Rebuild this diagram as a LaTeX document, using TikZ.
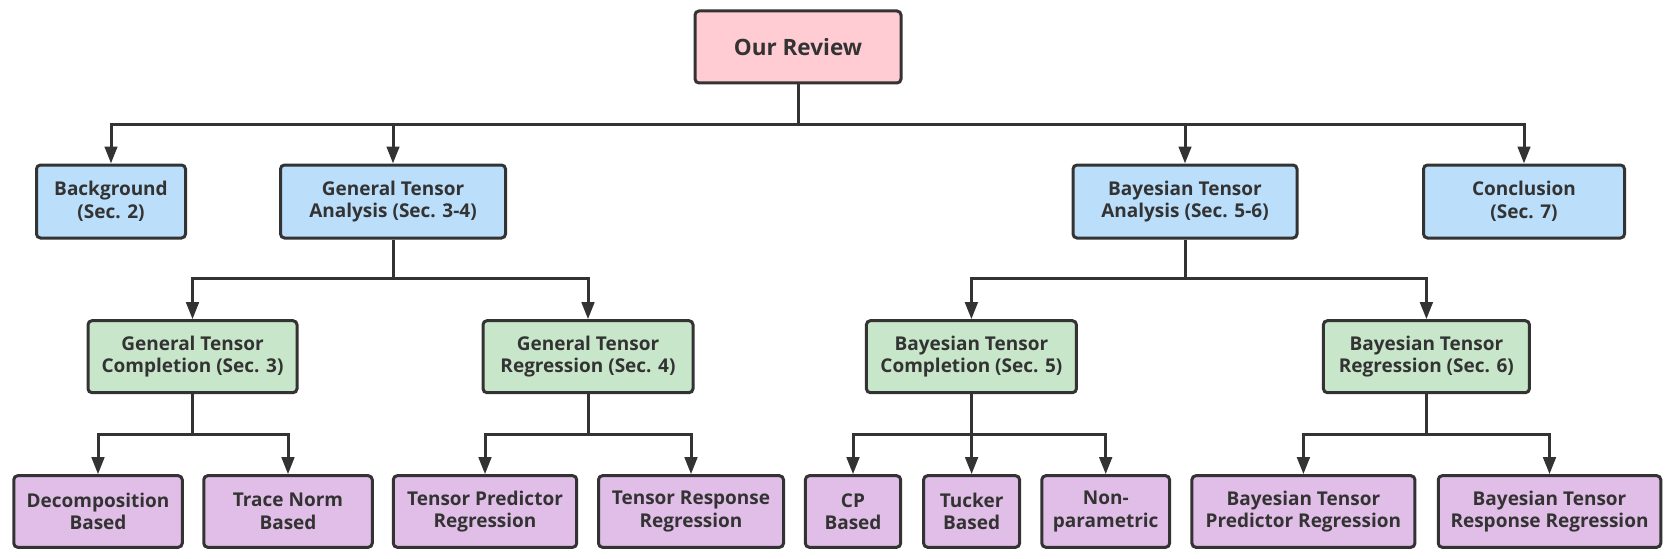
\documentclass[tikz,border=0pt]{standalone}
\usepackage{fontspec}
\setmainfont{Open Sans}
\usetikzlibrary{arrows.meta}
\definecolor{ink}{HTML}{333333}
\definecolor{pinkf}{HTML}{FFCCD3}
\definecolor{bluef}{HTML}{BBDEFA}
\definecolor{greenf}{HTML}{C8E6CA}
\definecolor{purplef}{HTML}{E1BEE7}
\begin{document}
\begin{tikzpicture}[x=1pt,y=-1pt,
  box/.style={draw=ink,line width=3pt,rounded corners=4pt,align=center,
    text=ink,font=\fontsize{19}{22.5}\selectfont\bfseries,inner sep=0pt},
  lvl0/.style={box,fill=pinkf,minimum height=72pt,font=\fontsize{22.5}{26}\selectfont\bfseries},
  lvl1/.style={box,fill=bluef,minimum height=73pt},
  lvl2/.style={box,fill=greenf,minimum height=72pt},
  lvl3/.style={box,fill=purplef,minimum height=71.6pt},
  arr/.style={draw=ink,line width=3pt,-{Triangle[length=17pt,width=12.5pt]}}]
\useasboundingbox (0,0) rectangle (1675,559);
% nodes
\node[lvl0,minimum width=206pt] (rev) at (798,47) {Our Review};
\node[lvl1,minimum width=149pt] (bg) at (111,201.5) {Background\\(Sec. 2)};
\node[lvl1,minimum width=225pt] (gta) at (393,201.5) {General Tensor\\Analysis (Sec. 3-4)};
\node[lvl1,minimum width=224pt] (bta) at (1185,201.5) {Bayesian Tensor\\Analysis (Sec. 5-6)};
\node[lvl1,minimum width=201pt] (con) at (1524,201.5) {Conclusion\\(Sec. 7)};
\node[lvl2,minimum width=209pt] (gtc) at (192.5,356.7) {General Tensor\\Completion (Sec. 3)};
\node[lvl2,minimum width=210pt] (gtr) at (588,356.7) {General Tensor\\Regression (Sec. 4)};
\node[lvl2,minimum width=210pt] (btc) at (971.4,356.7) {Bayesian Tensor\\Completion (Sec. 5)};
\node[lvl2,minimum width=206pt] (btr) at (1426.4,356.7) {Bayesian Tensor\\Regression (Sec. 6)};
\node[lvl3,minimum width=168.5pt] (dec) at (98,511.5) {Decomposition\\Based};
\node[lvl3,minimum width=168.5pt] (tn) at (288,511.5) {Trace Norm\\Based};
\node[lvl3,minimum width=183.4pt] (tp) at (485,511.5) {Tensor Predictor\\Regression};
\node[lvl3,minimum width=185pt] (tr) at (691,511.5) {Tensor Response\\Regression};
\node[lvl3,minimum width=95.3pt] (cp) at (853,511.5) {CP\\Based};
\node[lvl3,minimum width=96pt] (tu) at (971.6,511.5) {Tucker\\Based};
\node[lvl3,minimum width=127.8pt] (np) at (1105.7,511.5) {Non-\\parametric};
\node[lvl3,minimum width=223pt] (btp) at (1303.4,511.5) {Bayesian Tensor\\Predictor Regression};
\node[lvl3,minimum width=222.5pt] (btrr) at (1549.5,511.5) {Bayesian Tensor\\Response Regression};
% bus levels
\coordinate (b1) at (0,124.3);
\coordinate (b2) at (0,278);
\coordinate (b3) at (0,434);
% connectors
\foreach \c in {bg,gta,bta,con}
  \draw[arr] (rev.south) -- (rev.south |- b1) -| (\c.north);
\foreach \c in {gtc,gtr}
  \draw[arr] (gta.south) -- (gta.south |- b2) -| (\c.north);
\foreach \c in {btc,btr}
  \draw[arr] (bta.south) -- (bta.south |- b2) -| (\c.north);
\foreach \c in {dec,tn}
  \draw[arr] (gtc.south) -- (gtc.south |- b3) -| (\c.north);
\foreach \c in {tp,tr}
  \draw[arr] (gtr.south) -- (gtr.south |- b3) -| (\c.north);
\foreach \c in {cp,tu,np}
  \draw[arr] (btc.south) -- (btc.south |- b3) -| (\c.north);
\foreach \c in {btp,btrr}
  \draw[arr] (btr.south) -- (btr.south |- b3) -| (\c.north);
\end{tikzpicture}
\end{document}
